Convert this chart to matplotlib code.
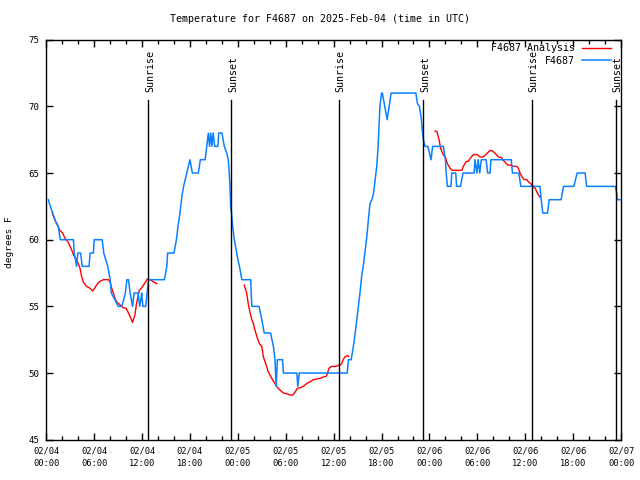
import matplotlib
matplotlib.use('Agg')
import matplotlib.pyplot as plt
import numpy as np

# hours since 2025-02-04 00:00 UTC
obs_hours = [0.25, 0.45, 0.8, 1.2, 1.5, 1.75, 3.4, 3.5, 3.8, 3.95, 4.3, 4.5, 5.35, 5.5, 5.9, 6.0,
             7.0, 7.2, 7.7, 8.0, 8.15, 8.6, 9.0, 9.45, 9.7, 9.9, 10.1, 10.3, 10.5, 10.8, 11.0, 11.5,
             11.7, 11.85, 11.95, 12.1, 12.45, 12.8, 14.8, 15.1, 15.2, 16.0, 16.3, 16.5, 16.75, 17.0,
             17.2, 17.4, 17.6, 17.8, 18.0, 18.3, 19.05, 19.3, 19.9, 20.1, 20.3, 20.45, 20.6, 20.75,
             20.9, 21.1, 21.5, 21.6, 22.0, 22.3, 22.6, 22.8, 23.0, 23.1, 23.2, 23.35, 23.55, 23.8,
             24.0, 24.2, 24.5, 25.6, 25.75, 26.65, 27.0, 27.3, 28.1, 28.45, 28.65, 28.8, 28.95, 29.6,
             29.7, 31.4, 31.5, 31.7, 37.7, 37.85, 38.2, 38.55, 38.7, 38.9, 39.1, 39.3, 39.5, 39.75,
             39.95, 40.15, 40.35, 40.55, 40.8, 41.0, 41.2, 41.4, 41.55, 41.7, 41.8, 42.0, 42.1, 42.4,
             42.7, 42.95, 43.2, 46.3, 46.5, 46.75, 47.0, 47.1, 47.25, 47.45, 47.8, 48.0, 48.2, 48.4,
             49.75, 50.0, 50.1, 50.25, 50.7, 50.8, 51.3, 51.4, 51.9, 52.2, 53.6, 53.7, 53.95, 54.1,
             54.3, 54.5, 55.1, 55.3, 55.6, 55.7, 58.25, 58.4, 59.2, 59.45, 61.85, 62.0, 62.2, 62.8,
             63.0, 64.5, 64.8, 66.1, 66.5, 67.5, 67.7, 71.3, 71.45, 71.55, 72.0]
obs_temp = [63.0, 62.6, 62.0, 61.3, 61.0, 60.0, 60.0, 59.0, 58.0, 59.0, 59.0, 58.0, 58.0, 59.0, 59.0, 60.0,
            60.0, 59.0, 58.0, 57.0, 56.0, 55.5, 55.0, 55.0, 55.5, 56.0, 57.0, 57.0, 56.0, 55.0, 56.0, 56.0,
            55.0, 55.5, 56.0, 55.0, 55.0, 57.0, 57.0, 58.0, 59.0, 59.0, 60.0, 61.0, 62.0, 63.3,
            64.0, 64.5, 65.0, 65.5, 66.0, 65.0, 65.0, 66.0, 66.0, 67.0, 68.0, 67.0, 68.0, 67.0,
            68.0, 67.0, 67.0, 68.0, 68.0, 67.0, 66.5, 66.0, 64.2, 62.5, 62.0, 61.0, 60.0, 59.2,
            58.5, 58.0, 57.0, 57.0, 55.0, 55.0, 54.0, 53.0, 53.0, 52.0, 51.0, 49.0, 51.0, 51.0,
            50.0, 50.0, 49.0, 50.0, 50.0, 51.0, 51.0, 52.3, 53.0, 54.0, 55.0, 56.0, 57.2, 58.2,
            59.2, 60.2, 61.5, 62.7, 63.0, 63.5, 64.5, 65.5, 66.8, 68.7, 70.0, 71.0, 71.0, 70.0,
            69.0, 70.0, 71.0, 71.0, 70.2, 70.0, 69.0, 68.2, 67.5, 67.0, 67.0, 66.5, 66.0, 67.0,
            67.0, 66.0, 65.0, 64.0, 64.0, 65.0, 65.0, 64.0, 64.0, 65.0, 65.0, 66.0, 65.0, 66.0,
            65.0, 66.0, 66.0, 65.0, 65.0, 66.0, 66.0, 65.0, 65.0, 64.0, 64.0, 63.0, 62.0, 62.0,
            63.0, 63.0, 64.0, 64.0, 65.0, 65.0, 64.0, 64.0, 63.5, 63.0, 63.0]

# analysis series, gaps as nan
ana_hours = [0.75, 1.0, 1.4, 1.7, 2.05, 2.35, 2.75, 3.2, 3.45, 3.7, 4.0, 4.2, 4.45, 4.65, 5.05, 5.5,
             5.8, 6.1, 6.3, 6.65, 7.15, 7.8, 8.0, 8.2, 8.4, 8.6, 8.8, 9.25, 9.65, 10.0, 10.3, 10.6,
             10.8, 11.1, 11.3, 11.65, 11.95, 12.4, 12.65, 13.0, 13.4, 13.85, 14.0,
             24.8, 25.1, 25.3, 25.5, 25.75, 25.95, 26.15, 26.4, 26.7, 27.0, 27.2, 27.6, 27.8, 28.25,
             28.65, 29.05, 29.5, 29.7, 30.1, 30.55, 30.9, 31.2, 31.45, 31.8, 32.2, 32.6, 33.05, 33.45,
             33.9, 34.3, 34.7, 35.05, 35.2, 35.4, 35.75, 36.2, 36.8, 37.0, 37.2, 37.4, 37.65, 37.9, 38.0,
             48.7, 48.95, 49.2, 49.4, 49.75, 50.0, 50.25, 50.6, 50.9, 51.6, 52.05, 52.25, 52.6, 52.9,
             53.1, 53.45, 53.8, 54.05, 54.35, 54.7, 55.0, 55.25, 55.6, 55.9, 56.2, 56.65, 57.05, 57.25,
             57.5, 57.8, 58.1, 58.5, 58.95, 59.15, 59.35, 59.6, 59.9, 60.2, 60.4, 60.7, 60.95, 61.25,
             61.45, 61.65, 61.85]
ana_temp = [62.0, 61.6, 61.1, 60.7, 60.5, 60.1, 59.8, 59.2, 58.8, 58.6, 58.2, 57.9, 57.2, 56.8, 56.5, 56.35,
            56.15, 56.4, 56.6, 56.85, 57.0, 57.0, 56.8, 56.35, 56.0, 55.6, 55.35, 55.1, 54.9, 54.85, 54.5, 54.1,
            53.8, 54.35, 55.2, 56.2, 56.4, 56.8, 57.05, 57.0, 56.85, 56.7, np.nan,
            56.6, 56.0, 55.2, 54.6, 54.0, 53.7, 53.2, 52.7, 52.2, 52.0, 51.2, 50.5, 50.1, 49.6,
            49.2, 48.85, 48.6, 48.5, 48.45, 48.35, 48.35, 48.6, 48.85, 48.9, 49.0, 49.2, 49.35, 49.5,
            49.55, 49.6, 49.7, 49.75, 49.9, 50.35, 50.5, 50.5, 50.6, 50.7, 51.0, 51.2, 51.3, 51.25, np.nan,
            68.15, 68.1, 67.5, 66.85, 66.35, 66.2, 65.7, 65.35, 65.2, 65.2, 65.2, 65.5, 65.85, 65.9,
            66.1, 66.35, 66.4, 66.35, 66.2, 66.2, 66.35, 66.5, 66.7, 66.65, 66.5, 66.2, 66.15, 65.95,
            65.8, 65.6, 65.6, 65.5, 65.5, 65.35, 65.0, 64.7, 64.5, 64.5, 64.35, 64.2, 64.0, 63.85,
            63.6, 63.35, 63.2]

sun_events = ['Sunrise', 'Sunset', 'Sunrise', 'Sunset', 'Sunrise', 'Sunset']
sun_hours = [12.78, 23.18, 36.7, 47.24, 60.8, 71.35]

xtick_hours = list(range(0, 73, 6))
xtick_labels = ['02/04\n00:00', '02/04\n06:00', '02/04\n12:00', '02/04\n18:00',
                '02/05\n00:00', '02/05\n06:00', '02/05\n12:00', '02/05\n18:00',
                '02/06\n00:00', '02/06\n06:00', '02/06\n12:00', '02/06\n18:00',
                '02/07\n00:00']

mono = 'DejaVu Sans Mono'
plt.rcParams['font.family'] = mono

fig = plt.figure(figsize=(6.4, 4.8), dpi=100)
ax = fig.add_axes([46.3 / 640, 1 - 439.7 / 480, (621 - 46.3) / 640, 400 / 480])

ax.plot(ana_hours, ana_temp, color='#ff0000', lw=1.0, label='F4687 Analysis', zorder=2)
ax.plot(obs_hours, obs_temp, color='#0a80ff', lw=1.1, label='F4687', zorder=3)

for name, h in zip(sun_events, sun_hours):
    ax.plot([h, h], [45, 70.5], color='black', lw=1.0, zorder=4)
    ax.text(h + 0.2, 71.1, name, rotation=90, ha='center', va='bottom', fontsize=7.2, zorder=4)

ax.set_xlim(0, 72)
ax.set_ylim(45, 75)
ax.set_xticks(xtick_hours)
ax.set_xticklabels(xtick_labels, fontsize=6.3, linespacing=1.5)
ax.set_xticks(np.arange(0, 73, 2), minor=True)
ax.set_yticks(np.arange(45, 76, 5))
ax.tick_params(axis='y', labelsize=6.6)
ax.tick_params(which='both', direction='in', top=True, right=True, width=1.0)
ax.tick_params(which='major', length=5, pad=5)
ax.tick_params(which='minor', length=3)
for s in ax.spines.values():
    s.set_linewidth(1.0)

ax.set_ylabel('degrees F', fontsize=6.8)
ax.yaxis.set_label_coords(-0.056, 0.495)
fig.text(0.5, 1 - 19 / 480, 'Temperature for F4687 on 2025-Feb-04 (time in UTC)',
         ha='center', va='center', fontsize=7.2)

ax.legend(loc='upper right', bbox_to_anchor=(611 / 640, 1 - 43 / 480),
          bbox_transform=fig.transFigure, frameon=False, markerfirst=False,
          fontsize=7.2, handlelength=2.9, handletextpad=0.7, labelspacing=0.28,
          borderpad=0, borderaxespad=0)

fig.savefig('out.png', dpi=100)
